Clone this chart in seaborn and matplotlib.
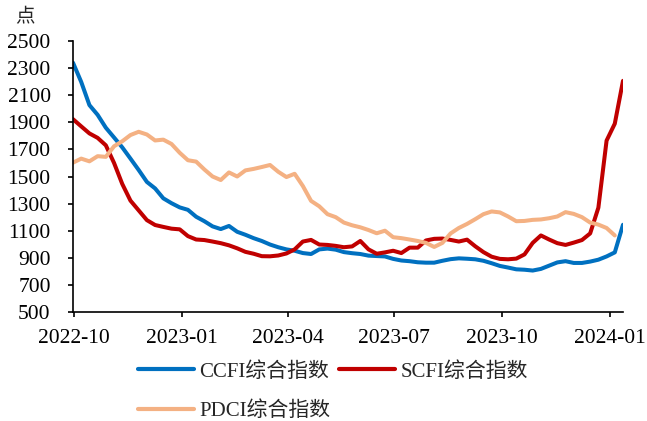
import numpy as np
import pandas as pd
import matplotlib
matplotlib.use("Agg")
import matplotlib.pyplot as plt
import matplotlib.dates as mdates
import seaborn as sns

# ---- data (weekly) ----
dates = pd.date_range("2022-09-30", periods=68, freq="7D")

ccfi = [2340, 2198, 2027, 1955, 1860, 1788, 1715, 1632, 1548, 1460,
        1412, 1339, 1303, 1272, 1254, 1203, 1170, 1132, 1112, 1135,
        1092, 1070, 1045, 1024, 998, 978, 962, 952, 935, 928,
        962, 968, 960, 942, 934, 928, 916, 913, 910, 892,
        880, 875, 867, 864, 864, 878, 890, 896, 893, 889,
        878, 860, 840, 828, 815, 812, 806, 818, 842, 866,
        875, 862, 862, 872, 886, 910, 940, 1144]

scfi = [1923, 1870, 1818, 1785, 1730, 1600, 1445, 1322, 1250, 1178,
        1142, 1128, 1115, 1110, 1060, 1035, 1031, 1020, 1008, 992,
        970, 944, 930, 912, 911, 917, 932, 962, 1020, 1032,
        998, 995, 988, 978, 984, 1024, 962, 930, 940, 952,
        935, 975, 975, 1028, 1040, 1042, 1032, 1020, 1034, 985,
        942, 908, 892, 889, 894, 925, 1010, 1065, 1035, 1008,
        995, 1012, 1031, 1080, 1270, 1765, 1890, 2206]

pdci = [1602, 1632, 1612, 1650, 1645, 1723, 1760, 1806, 1830, 1810,
        1766, 1772, 1740, 1675, 1620, 1610, 1552, 1500, 1474, 1530,
        1500, 1545, 1556, 1570, 1585, 1535, 1496, 1520, 1430, 1320,
        1280, 1222, 1200, 1160, 1140, 1125, 1105, 1081, 1100, 1052,
        1045, 1035, 1024, 1010, 980, 1010, 1080, 1120, 1150, 1185,
        1222, 1242, 1235, 1205, 1170, 1172, 1180, 1183, 1192, 1205,
        1237, 1224, 1200, 1160, 1145, 1120, 1065, np.nan]

series_names = ["CCFI综合指数", "SCFI综合指数", "PDCI综合指数"]
colors = ["#0070C0", "#C00000", "#F4B183"]
y_ticks = list(range(500, 2501, 200))
y_unit = "点"

df = pd.concat([
    pd.DataFrame({"date": dates, "value": vals, "series": name})
    for name, vals in zip(series_names, [ccfi, scfi, pdci])
], ignore_index=True)

# ---- style ----
sns.set_style("ticks")
plt.rcParams["font.family"] = ["Liberation Serif", "Noto Sans CJK SC", "DejaVu Sans"]
plt.rcParams["axes.unicode_minus"] = False

fig = plt.figure(figsize=(6.47, 4.21), dpi=100)
ax = fig.add_axes([73/647, 1-312/421, 550/647, 271/421])

sns.lineplot(data=df, x="date", y="value", hue="series", hue_order=series_names,
             palette=colors, linewidth=2.9, ax=ax, legend=False)
for ln in ax.get_lines():
    ln.set_solid_joinstyle("round")
    ln.set_solid_capstyle("round")

ax.set_xlim(dates[0], dates[-1])
ax.set_ylim(500, 2500)
ax.set_yticks(y_ticks)
ax.xaxis.set_major_locator(mdates.MonthLocator(bymonth=[1, 4, 7, 10]))
ax.xaxis.set_major_formatter(mdates.DateFormatter("%Y-%m"))
ax.set_xlabel("")
ax.set_ylabel("")
for s in ["top", "right"]:
    ax.spines[s].set_visible(False)
for s in ["left", "bottom"]:
    ax.spines[s].set_color("black")
    ax.spines[s].set_linewidth(1.2)
ax.tick_params(axis="both", direction="out", length=3.6, width=1.2, color="black",
               labelsize=15.5, labelcolor="black")
ax.tick_params(axis="y", pad=12.5)
ax.tick_params(axis="x", pad=8.5)

fig.text(15/647, 1-17/421, y_unit, fontsize=14, ha="left", va="center")

# column-wise fill: col1 = CCFI, PDCI ; col2 = SCFI
order = [0, 2, 1]
handles = [plt.Line2D([], [], color=colors[i], linewidth=3) for i in order]
labels = [series_names[i] for i in order]
fig.legend(handles, labels, loc="upper left", ncol=2, frameon=False,
           bbox_to_anchor=(138/647, 1-362/421), fontsize=15,
           handlelength=2.7, handletextpad=0.25, columnspacing=0.4,
           borderpad=0, borderaxespad=0, labelspacing=0.95)

fig.savefig("out.png", dpi=100)
